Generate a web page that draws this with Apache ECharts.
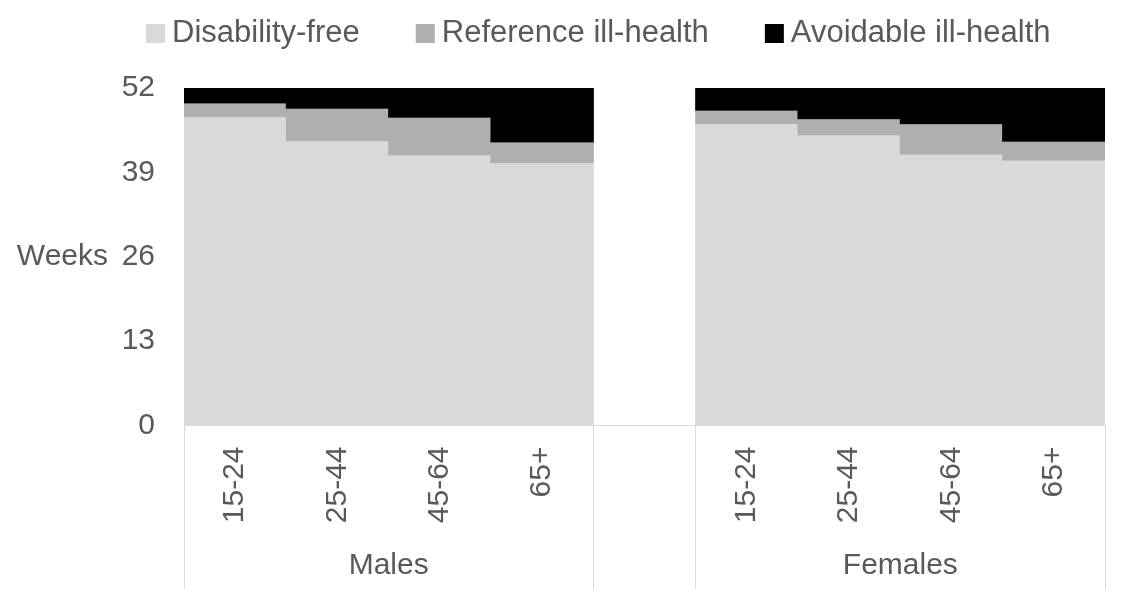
<!DOCTYPE html>
<html>
<head>
<meta charset="utf-8">
<script src="https://cdn.jsdelivr.net/npm/echarts@6/dist/echarts.min.js"></script>
<style>html,body{margin:0;padding:0;background:#fff}#c{width:1121px;height:589px}</style>
</head>
<body>
<div id="c"></div>
<script>
const categories = ['15-24','25-44','45-64','65+','','15-24','25-44','45-64','65+'];
const groups = ['Males','Females'];
const groupSize = 4;
const seriesNames = ['Disability-free','Reference ill-health','Avoidable ill-health'];
const disabilityFree = [47.5, 43.8, 41.6, 40.4, null, 46.4, 44.7, 41.7, 40.8];
const referenceIll = [2.1, 5.0, 5.8, 3.2, null, 2.1, 2.5, 4.7, 2.9];
const avoidableIll = [2.4, 3.2, 4.6, 8.4, null, 3.5, 4.8, 5.6, 8.3];
const yTicks = [0, 13, 26, 39, 52];

const FONT = "'Liberation Sans', Arial, sans-serif";
const TXT = '#595959';
const colors = ['#d9d9d9', '#afafaf', '#000000'];

const groupCentres = {};
groupCentres[groupSize / 2] = groups[0];
groupCentres[groupSize + 1 + groupSize / 2] = groups[1];
const sepIdx = [0, groupSize, groupSize + 1];

const chart = echarts.init(document.getElementById('c'), null, {renderer: 'canvas'});
const mk = (name, data, i) => ({
  name: name, type: 'bar', stack: 'total', data: data,
  barWidth: '101%', barGap: 0,
  itemStyle: {color: colors[i]},
  emphasis: {disabled: true}, animation: false
});
chart.setOption({
  animation: false,
  textStyle: {fontFamily: FONT},
  legend: {
    left: 141, top: 13,
    itemWidth: 19, itemHeight: 19, itemGap: 56,
    icon: 'rect',
    textStyle: {fontSize: 31, color: TXT, fontFamily: FONT, padding: [0, 0, 0, 2]},
    data: seriesNames
  },
  grid: {left: 184, right: 16, top: 88, bottom: 163.5, containLabel: false},
  xAxis: [{
    type: 'category', data: categories,
    axisLine: {show: true, lineStyle: {color: '#d9d9d9', width: 1}},
    axisTick: {show: true, length: 166, interval: function (i) { return sepIdx.indexOf(i) >= 0; },
      lineStyle: {color: '#d9d9d9', width: 1}},
    axisLabel: {rotate: 90, interval: 0, margin: 21, fontSize: 30, color: TXT, fontFamily: FONT},
    splitLine: {show: false}
  }, {
    type: 'value', position: 'bottom', min: 0, max: categories.length, interval: 1,
    axisLine: {show: false}, axisTick: {show: false}, splitLine: {show: false},
    axisLabel: {margin: 125, fontSize: 30, color: TXT, fontFamily: FONT, showMinLabel: true, showMaxLabel: true,
      formatter: function (v) { return groupCentres[v] || ''; }}
  }],
  yAxis: {
    type: 'value', min: yTicks[0], max: yTicks[yTicks.length - 1], interval: 13,
    name: 'Weeks', nameLocation: 'middle', nameRotate: 0, nameGap: 76,
    nameTextStyle: {fontSize: 30, color: TXT, fontFamily: FONT, align: 'right', verticalAlign: 'middle'},
    axisLine: {show: false}, axisTick: {show: false}, splitLine: {show: false},
    axisLabel: {margin: 29, fontSize: 30, color: TXT, fontFamily: FONT}
  },
  series: [
    mk(seriesNames[0], disabilityFree, 0),
    mk(seriesNames[1], referenceIll, 1),
    mk(seriesNames[2], avoidableIll, 2)
  ]
});
</script>
</body>
</html>
